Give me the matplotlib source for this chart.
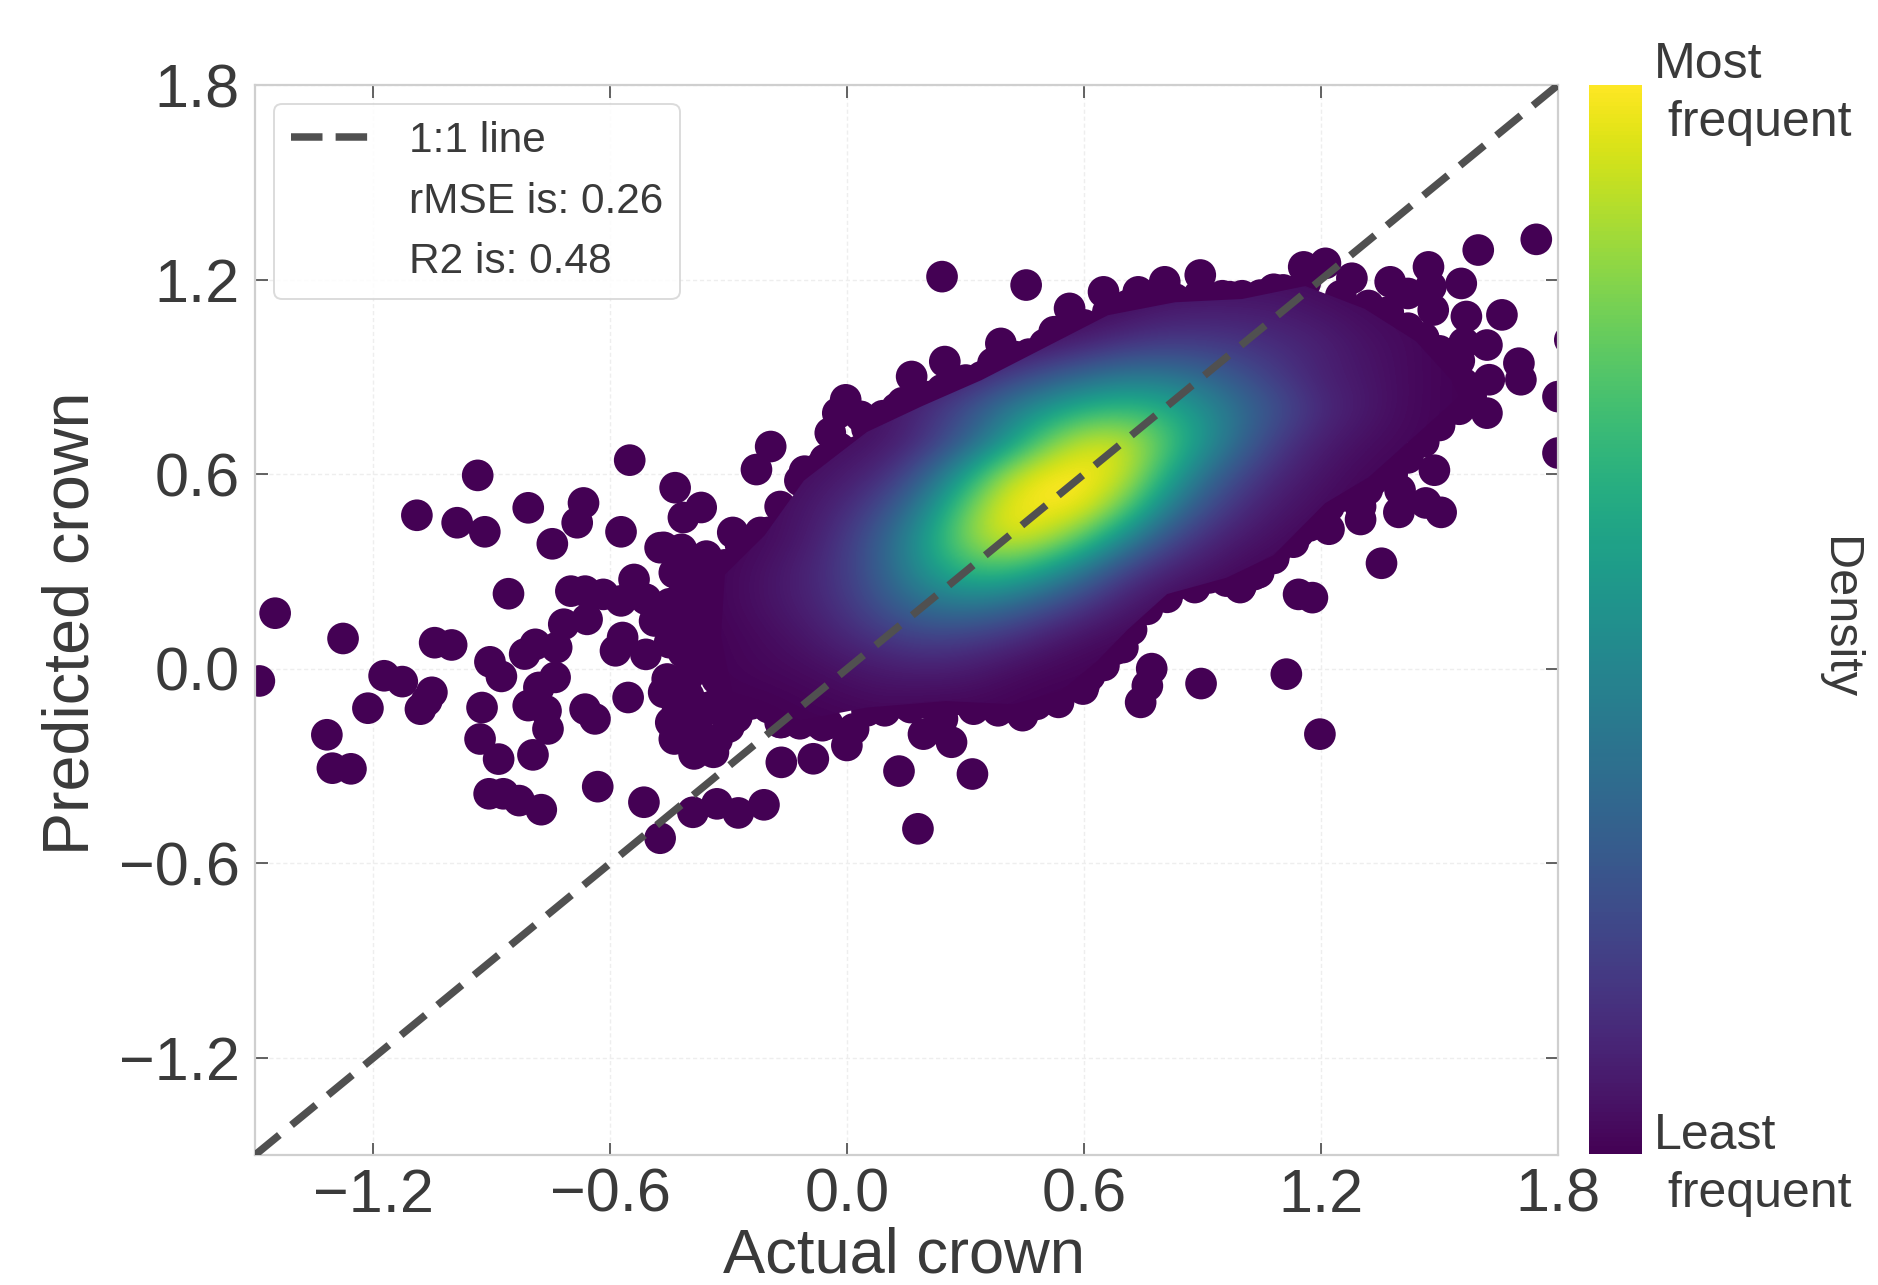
import numpy as np
import matplotlib
matplotlib.use("Agg")
import matplotlib.pyplot as plt
from matplotlib.lines import Line2D
from matplotlib.patches import Polygon
from matplotlib.cm import ScalarMappable
from matplotlib.colors import Normalize

plt.rcParams['font.family'] = ['Liberation Sans', 'DejaVu Sans']
TXT = '#3a3a3a'

left_x = [-1.449,-1.277,-1.489,-1.045,-1.002,-1.173,-1.127,-1.214,-1.052,-1.081,-1.065,-1.318,-1.304,-1.257,
          -0.905,-0.876,-0.925,-0.930,-0.883,-0.796,-0.858,-0.700,-0.664,-0.618,-0.540,-0.573,-0.510,-0.659,
          -0.718,-0.736,-0.790,-0.817,-0.740,-0.781,-0.808,-0.763,-0.758,-0.569,-0.587,-0.510,-0.488,-0.555,
          -0.664,-0.639,-0.907,-0.871,-0.831,-0.775,-0.632,-0.515,-0.474,-0.391,-0.330,-0.276,-0.211,-0.167,
          -1.090,-0.988,-0.918,-0.808,-0.668,-0.684,-0.747,-0.573,-0.936,-0.551,-0.436,-0.370,-0.415,-0.194,
          -0.230,-0.465]
left_y = [0.171,0.093,-0.038,0.080,0.073,-0.022,-0.040,-0.122,-0.073,-0.125,-0.099,-0.204,-0.307,-0.309,
          0.021,-0.024,-0.120,-0.217,-0.279,-0.266,0.231,0.239,0.239,0.229,0.275,0.209,0.214,0.152,
          0.137,0.065,0.075,0.045,-0.027,-0.058,-0.114,-0.130,-0.186,0.096,0.055,0.044,0.147,-0.089,
          -0.125,-0.155,-0.386,-0.386,-0.407,-0.435,-0.364,-0.412,-0.523,-0.443,-0.417,-0.445,-0.420,-0.289,
          0.473,0.450,0.422,0.496,0.511,0.450,0.385,0.422,0.596,0.643,0.558,0.497,0.466,0.685,
          0.614,0.374]
cluster_x = [-0.474,-0.420,-0.357,-0.438,-0.384,-0.321,-0.420,-0.357,-0.420,-0.312,-0.415,-0.320,-0.456,-0.402,
             -0.465,-0.402,-0.330,-0.339,-0.257,-0.316,-0.447,-0.438,-0.384,-0.388,-0.339,-0.167,-0.290,-0.270,
             -0.250,-0.220,-0.140,-0.090,-0.36,-0.30,-0.35,-0.29,-0.38,-0.30,-0.27,-0.38,-0.30,-0.37,-0.30,
             -0.42,-0.35,-0.38,-0.43,-0.40,-0.45,-0.45,-0.33,-0.28]
cluster_y = [0.373,0.368,0.347,0.296,0.275,0.275,0.214,0.204,0.132,0.132,0.050,0.040,-0.032,-0.022,
             -0.073,-0.084,-0.032,-0.114,-0.094,-0.135,-0.166,-0.217,-0.207,-0.263,-0.258,-0.166,0.420,0.300,
             0.180,0.050,-0.120,-0.160,0.10,0.10,0.0,0.0,0.05,0.20,0.12,0.14,-0.08,-0.12,-0.18,
             0.28,0.28,-0.16,-0.13,0.33,0.08,0.20,-0.22,-0.15]
upper_x = [0.240,0.453,0.649,0.737,0.804,0.894,1.156,1.211,1.278,1.375,1.472,1.598,1.745,1.555,1.658,1.568,
           1.478,1.420,1.484,1.620,1.562,1.701,1.706,1.800,1.800,1.830,1.626,1.620,1.517,1.459,1.487,1.397,
           1.465,1.504,1.300,1.353,1.143,1.178,1.510,1.433,1.484,1.355,1.317,1.252,1.368,1.452,1.143,1.123,
           1.072,1.014,0.995,0.917,0.833,0.769,-0.004,-0.024,0.034,-0.043,-0.056,-0.108,0.028,0.125,0.163,
           0.208,0.247,0.286,0.369,0.389,0.524,0.563,0.608,0.427,0.969,1.046,1.104,1.330,1.400,1.250]
upper_y = [1.209,1.183,1.162,1.162,1.193,1.214,1.239,1.250,1.204,1.193,1.239,1.291,1.324,1.188,1.091,1.086,
           1.178,1.157,1.106,0.998,1.004,0.942,0.891,0.839,0.665,1.014,0.891,0.788,0.793,0.716,0.612,0.482,
           0.511,0.482,0.460,0.325,0.229,0.219,0.942,0.973,0.891,0.603,0.552,0.532,0.665,0.768,0.419,0.460,
           0.368,0.316,0.250,0.280,0.260,0.219,0.829,0.788,0.778,0.727,0.645,0.609,0.670,0.803,0.901,
           0.839,0.947,0.875,0.942,1.003,1.039,1.111,1.045,0.962,1.147,1.152,1.168,1.080,1.050,1.120]
lower_x = [0.771,0.760,0.743,0.896,1.112,1.197,0.698,0.597,0.535,0.444,0.382,0.320,0.264,0.193,0.241,0.095,
           0.016,-0.001,-0.063,-0.086,-0.170,0.131,0.317,0.179,-0.244,0.834,0.997,1.042,1.087,0.614,0.715,
           0.760,-0.311,0.160,0.210,0.500]
lower_y = [0.000,-0.053,-0.104,-0.046,-0.017,-0.202,0.065,-0.063,-0.104,-0.145,-0.130,-0.125,-0.227,-0.202,
           -0.155,-0.130,-0.186,-0.237,-0.176,-0.278,-0.166,-0.316,-0.325,-0.494,-0.109,0.260,0.255,0.296,
           0.368,-0.022,0.122,0.183,-0.135,-0.120,-0.110,-0.080]
rim_x = [-0.20,-0.17,-0.12,-0.07,-0.02,0.05,0.09,0.14,0.19,0.24,0.30,0.34,0.40,0.46,0.50,0.55,0.60,0.66,0.71,0.77,
         0.83,0.89,0.95,1.00,1.08,1.16,1.25,1.32,1.37,1.42,1.46,1.50,1.53,1.56,1.58,1.55,1.50,1.46,1.42,1.38,1.33,
         1.28,1.22,1.17,1.13,1.08,1.03,0.96,0.88,0.81,0.74,0.72,0.68,0.65,0.60,0.54,0.48,0.42,0.36,0.30,0.25,0.15,
         0.10,0.05,-0.05,-0.12,-0.20,-0.28,-0.31,-0.33,-0.33,-0.33,-0.31,-0.27,-0.22,
         1.30,1.38,1.45,1.35,1.42,1.30,1.20,1.28,1.35,1.50,1.40,1.30,1.22,1.25,1.35,1.55]
rim_y = [0.42,0.50,0.58,0.62,0.68,0.74,0.78,0.82,0.82,0.86,0.89,0.90,0.93,0.97,1.00,1.03,1.06,1.10,1.12,1.13,
         1.14,1.15,1.15,1.15,1.17,1.19,1.15,1.12,1.10,1.05,1.02,0.98,0.93,0.88,0.84,0.80,0.75,0.70,0.65,0.60,0.58,
         0.55,0.50,0.44,0.39,0.34,0.29,0.27,0.25,0.22,0.18,0.12,0.06,0.01,-0.05,-0.08,-0.11,-0.12,-0.11,-0.10,-0.11,-0.11,
         -0.12,-0.13,-0.17,-0.17,-0.12,-0.10,0.00,0.08,0.16,0.24,0.32,0.38,0.42,
         0.95,1.00,0.90,0.85,0.78,0.70,0.60,0.62,0.72,0.83,0.55,0.50,0.43,1.05,0.68,0.95]

# local density (columns: density_x, rows: density_y)
density_x = [-0.4,-0.3,-0.2,-0.1,0.0,0.1,0.2,0.3,0.4,0.5,0.6,0.7,0.8,0.9,1.0,1.1,1.2,1.3,1.4,1.5,1.6]
density_y = [-0.2,-0.1,0.0,0.1,0.2,0.3,0.4,0.5,0.6,0.7,0.8,0.9,1.0,1.1,1.2]
density_table = [
 [0,0,0,0,0,0,0,0,0,0,0,0,0,0,0,0,0,0,0,0,0],
 [0,0,0,.01,.02,.03,.02,.02,.01,0,0,0,0,0,0,0,0,0,0,0,0],
 [0,.01,.02,.03,.05,.07,.08,.07,.04,.02,.01,0,0,0,0,0,0,0,0,0,0],
 [0,.01,.03,.06,.11,.16,.20,.18,.14,.08,.04,.02,.01,0,0,0,0,0,0,0,0],
 [0,.02,.05,.09,.16,.27,.37,.40,.35,.25,.15,.07,.03,.01,0,0,0,0,0,0,0],
 [0,.02,.05,.10,.18,.33,.52,.66,.67,.54,.36,.18,.09,.05,.02,.01,0,0,0,0,0],
 [0,.01,.03,.07,.17,.33,.57,.82,.95,.90,.72,.46,.24,.12,.06,.03,.01,0,0,0,0],
 [0,.01,.03,.06,.12,.24,.46,.77,.98,1.0,.98,.77,.46,.24,.12,.06,.03,.01,0,0,0],
 [0,0,.01,.04,.07,.13,.30,.57,.87,1.0,1.0,.93,.65,.38,.20,.10,.05,.02,.01,0,0],
 [0,0,.01,.02,.04,.06,.14,.30,.51,.77,.93,.92,.75,.53,.32,.16,.08,.04,.02,.01,0],
 [0,0,0,0,.02,.06,.13,.24,.40,.53,.64,.68,.63,.50,.35,.23,.12,.07,.03,.01,0],
 [0,0,0,0,0,.01,.04,.08,.17,.26,.34,.40,.40,.34,.25,.16,.09,.06,.03,.01,0],
 [0,0,0,0,0,0,0,.01,.02,.05,.09,.14,.17,.17,.15,.12,.09,.05,.03,.01,0],
 [0,0,0,0,0,0,0,0,0,.01,.02,.04,.07,.08,.08,.07,.05,.03,.02,.01,0],
 [0,0,0,0,0,0,0,0,0,0,0,.01,.02,.03,.03,.03,.02,.01,.01,0,0],
]
body_x = [-0.29,-0.32,-0.31,-0.21,-0.11,0.05,0.19,0.34,0.50,0.66,0.83,1.00,1.16,1.31,1.44,1.53,1.55,1.44,1.32,
          1.21,1.08,0.96,0.81,0.71,0.63,0.54,0.42,0.25,0.05,-0.12,-0.27]
body_y = [-0.08,0.10,0.29,0.41,0.58,0.73,0.81,0.89,0.99,1.09,1.13,1.14,1.18,1.11,1.01,0.89,0.84,0.72,0.59,
          0.51,0.35,0.28,0.23,0.12,0.02,-0.07,-0.11,-0.10,-0.12,-0.16,-0.10]

tick_values = [-1.2,-0.6,0.0,0.6,1.2,1.8]
legend_labels = ['1:1 line','rMSE is: 0.26','R2 is: 0.48']
x_name, y_name = 'Actual crown', 'Predicted crown'
limits = (-1.5, 1.8)

W, H = 1878, 1285
fig = plt.figure(figsize=(W/100, H/100), dpi=100, facecolor='white')
ax = fig.add_axes([255/W, 1-1155/H, (1558-255)/W, (1155-85)/H])
ax.set_xlim(limits); ax.set_ylim(limits)

ax.grid(True, color='#eeeeee', lw=1.0, ls=(0,(3,2)), zorder=0)
ax.set_axisbelow(True)
for s in ax.spines.values():
    s.set_color('#cfcfcf'); s.set_linewidth(1.6)
ax.set_xticks(tick_values); ax.set_yticks(tick_values)
ax.tick_params(axis='both', which='major', direction='in', length=9, width=1.3, color='#555555',
               top=True, right=True, labelcolor=TXT, labelsize=44)
ax.tick_params(axis='x', pad=9)
ax.tick_params(axis='y', pad=11)

norm = Normalize(0, 1)
dots_x = left_x + cluster_x + upper_x + lower_x + rim_x
dots_y = left_y + cluster_y + upper_y + lower_y + rim_y
ax.scatter(dots_x, dots_y, s=520, c=[0.0]*len(dots_x), cmap='viridis', norm=norm, linewidths=0, zorder=2)

dx = density_x[1]-density_x[0]; dy = density_y[1]-density_y[0]
im = ax.imshow(density_table, origin='lower', cmap='viridis', norm=norm, aspect='auto', interpolation='bicubic',
               extent=[density_x[0]-dx/2, density_x[-1]+dx/2, density_y[0]-dy/2, density_y[-1]+dy/2], zorder=3)
ax.set_xlim(limits); ax.set_ylim(limits)
clip = Polygon(np.column_stack([body_x, body_y]), closed=True, transform=ax.transData)
im.set_clip_path(clip)

ax.plot(limits, limits, color='#505050', lw=5.4, dashes=(4.2,2.1), zorder=4, dash_capstyle='butt')

ax.set_xlabel(x_name, fontsize=45.5, color=TXT)
ax.xaxis.set_label_coords((904-255)/(1558-255), -(1256-1155)/(1155-85), transform=ax.transAxes)
ax.xaxis.label.set_va('center')
ax.set_ylabel(y_name, fontsize=46.5, color=TXT)
ax.yaxis.set_label_coords(-(255-72)/(1558-255), (1155-623)/(1155-85), transform=ax.transAxes)
ax.yaxis.label.set_va('center')

handles = [Line2D([],[],color='#505050',lw=5.4,dashes=(4.2,1.75)),
           Line2D([],[],color='none'), Line2D([],[],color='none')]
leg = ax.legend(handles, legend_labels, loc='upper left', bbox_to_anchor=((274-255)/(1558-255), 1-(104-85)/(1155-85)),
                borderaxespad=0, frameon=True, fancybox=True, framealpha=0.85, edgecolor='#d5d5d5',
                fontsize=30.5, labelcolor=TXT, handlelength=1.85, handletextpad=0.93, labelspacing=0.49,
                borderpad=0.40)
leg.get_frame().set_linewidth(1.4)
leg.set_zorder(5)

cax = fig.add_axes([1589/W, 1-1154/H, (1642-1589)/W, (1154-85)/H])
cb = fig.colorbar(ScalarMappable(norm=norm, cmap='viridis'), cax=cax)
cb.set_ticks([])
cb.outline.set_visible(False)

fig.text(1654/W, 1-94/H, 'Most\n frequent', fontsize=36, color=TXT, ha='left', va='center', linespacing=1.35)
fig.text(1654/W, 1-1165/H, 'Least\n frequent', fontsize=36, color=TXT, ha='left', va='center', linespacing=1.35)
fig.text(1838/W, 1-618/H, 'Density', fontsize=35, color=TXT, rotation=270, ha='center', va='center')

fig.savefig('out.png', dpi=100, facecolor='white')
